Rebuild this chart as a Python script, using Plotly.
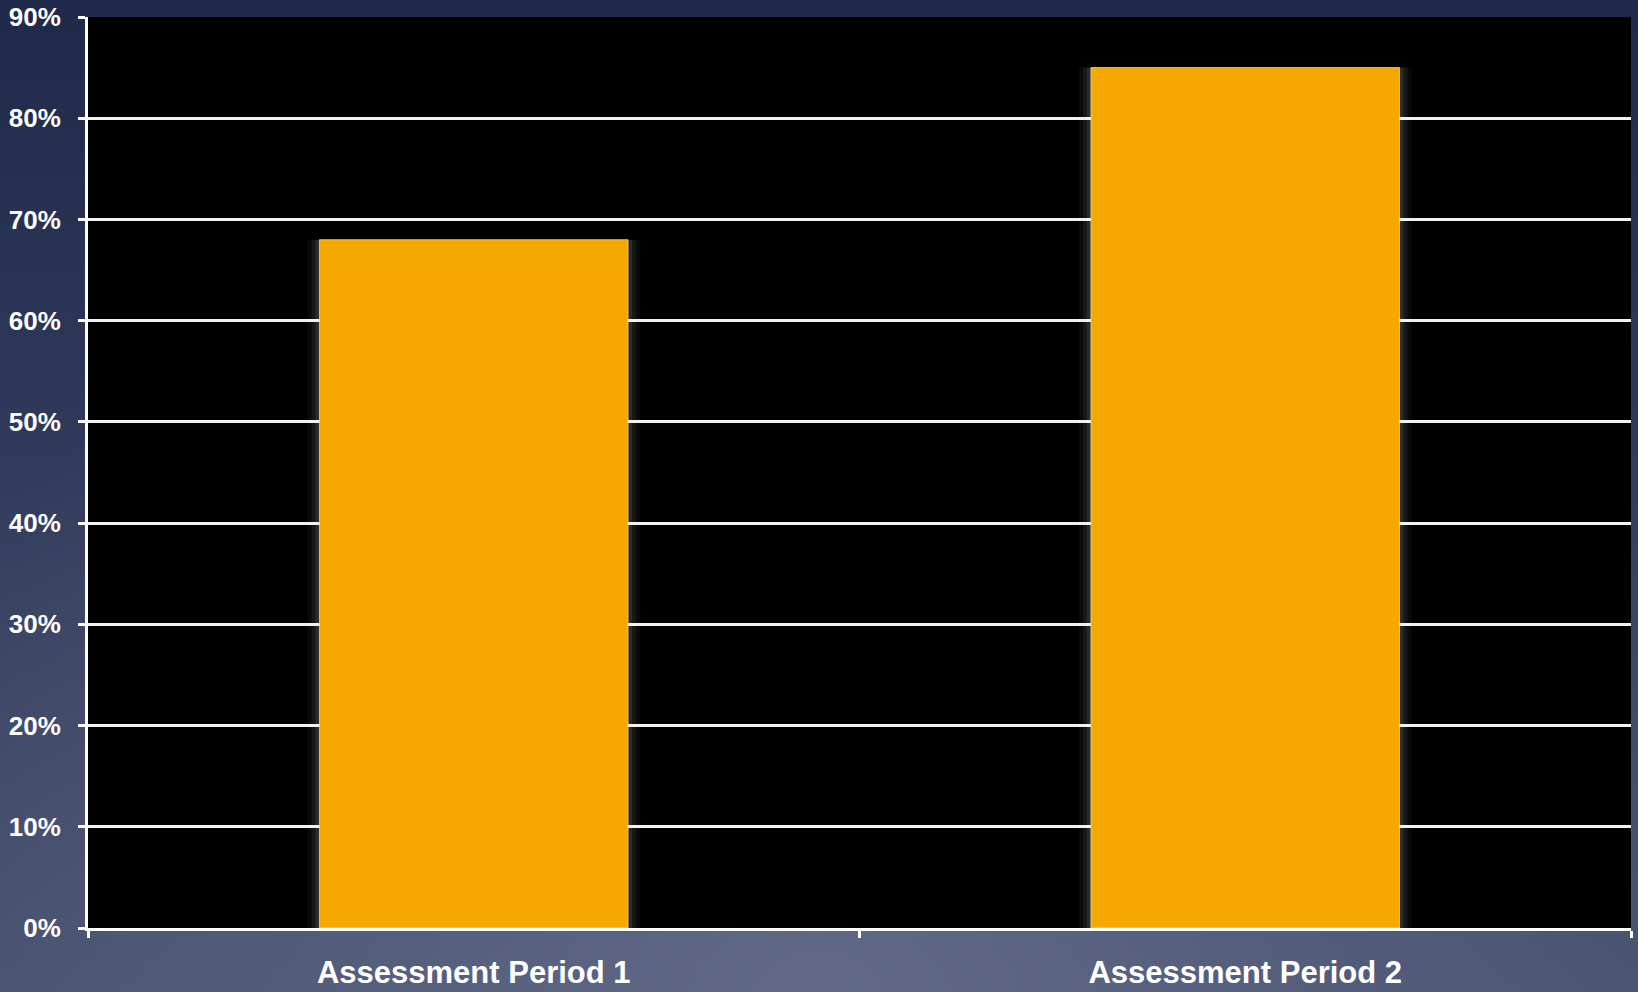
import base64
import plotly.graph_objects as go

# Assessment results
periods = ["Assessment Period 1", "Assessment Period 2"]
scores = [68, 85]  # percent

tick_vals = [0, 10, 20, 30, 40, 50, 60, 70, 80, 90]
tick_text = ["0%", "10%", "20%", "30%", "40%", "50%", "60%", "70%", "80%", "90%"]

W, H = 1638, 992

# dark blue slide background, lighter towards the bottom centre
bg_svg = f"""<svg xmlns='http://www.w3.org/2000/svg' width='{W}' height='{H}'>
<defs>
<linearGradient id='v' x1='0' y1='0' x2='0' y2='1'>
<stop offset='0' stop-color='#1f294a'/>
<stop offset='1' stop-color='#454e6d'/>
</linearGradient>
<radialGradient id='r' gradientUnits='userSpaceOnUse' cx='{W/2}' cy='{H}' r='{H}'
 gradientTransform='translate({W/2} {H}) scale(1.1 0.75) translate({-W/2} {-H})'>
<stop offset='0' stop-color='#646c8a' stop-opacity='0.9'/>
<stop offset='1' stop-color='#646c8a' stop-opacity='0'/>
</radialGradient>
</defs>
<rect width='{W}' height='{H}' fill='url(#v)'/>
<rect width='{W}' height='{H}' fill='url(#r)'/>
</svg>"""
bg_uri = "data:image/svg+xml;base64," + base64.b64encode(bg_svg.encode()).decode()

font = dict(family="Liberation Sans, Arial, sans-serif", color="white", weight="bold")

fig = go.Figure()

# soft glow on the sides of the bars
bar_w = 0.4
px_per_unit = 771.5
for k, a in [(12, 0.04), (8, 0.06), (4, 0.09)]:
    fig.add_trace(go.Bar(
        x=periods, y=scores, width=bar_w + 2 * k / px_per_unit,
        marker=dict(color=f"rgba(255,255,255,{a})", line=dict(width=0)),
        hoverinfo="skip", showlegend=False,
    ))

fig.add_trace(go.Bar(
    x=periods, y=scores, width=bar_w,
    marker=dict(color="#f5a900", line=dict(color="rgba(255,225,170,0.7)", width=1)),
    showlegend=False,
))

ml, mr, mt, mb = 88, 7, 17, 64
pw, ph = W - ml - mr, H - mt - mb
fig.add_layout_image(
    source=bg_uri, xref="paper", yref="paper",
    x=-ml / pw, y=1 + mt / ph, sizex=W / pw, sizey=H / ph,
    xanchor="left", yanchor="top", sizing="stretch", layer="below",
)
# black plot area
fig.add_shape(type="rect", xref="paper", yref="paper", x0=0, x1=1, y0=0, y1=1,
              fillcolor="black", line_width=0, layer="below")

fig.update_layout(
    width=W, height=H,
    margin=dict(l=ml, r=mr, t=mt, b=mb),
    paper_bgcolor="#2f3859",
    plot_bgcolor="rgba(0,0,0,0)",
    barmode="overlay",
    bargap=0.6,
)

fig.update_xaxes(
    showgrid=False, tickson="boundaries", automargin=False,
    ticks="outside", ticklen=7, tickwidth=3, tickcolor="white",
    showline=True, linecolor="white", linewidth=3,
    tickfont=dict(size=31, **font), ticklabelstandoff=15,
)
fig.update_yaxes(
    range=[0, 90], tickvals=tick_vals, ticktext=tick_text, automargin=False,
    showgrid=True, gridcolor="#f2f2f2", gridwidth=3,
    ticks="outside", ticklen=7, tickwidth=3, tickcolor="white",
    showline=True, linecolor="white", linewidth=3,
    zeroline=False,
    tickfont=dict(size=26, **font), ticklabelstandoff=12,
)

fig.write_html(
    "out.html",
    config={"displayModeBar": False},
    post_script="document.body.style.margin='0';document.body.style.overflow='hidden';",
)
